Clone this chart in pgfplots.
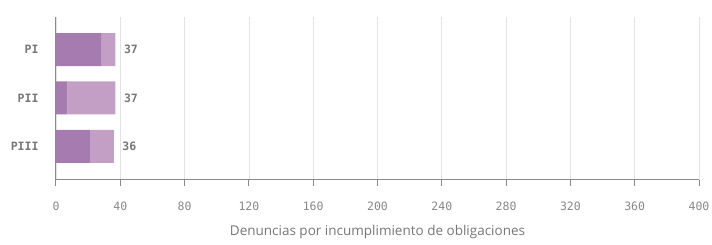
\documentclass[border=0pt]{standalone}
\usepackage{pgfplots}
\pgfplotsset{compat=1.18}
\usepackage{fontspec}
\setmainfont{Open Sans}
\newfontfamily\monofont{DejaVu Sans Mono}
\definecolor{dark}{HTML}{A57BB0}
\definecolor{light}{HTML}{C39FC5}
\definecolor{txt}{HTML}{777777}
\definecolor{ticktxt}{HTML}{888888}
\definecolor{axisgray}{HTML}{8A8A8A}
\definecolor{gridgray}{HTML}{E3E3E3}
\begin{document}
\begin{tikzpicture}
\useasboundingbox (-56pt,-65pt) rectangle (656pt,180pt);
\begin{axis}[
  at={(0,0)}, anchor=south west,
  scale only axis, width=643pt, height=163pt,
  xbar stacked, bar width=33pt,
  xmin=0, xmax=400, ymin=-0.698, ymax=2.677,
  xtick={0,40,...,400},
  ytick={0,1,2}, yticklabels={PIII,PII,PI},
  axis x line*=bottom, axis y line*=left,
  axis line style={axisgray, line width=1pt},
  x axis line style={-}, y axis line style={-},
  xmajorgrids, major grid style={gridgray, line width=0.8pt},
  major x tick style={axisgray, line width=1pt},
  tick align=outside, xtick pos=bottom,
  major tick length=6pt,
  ytick style={draw=none},
  xticklabel style={font=\monofont\fontsize{11.5}{12}\selectfont, text=ticktxt, yshift=-12pt},
  yticklabel style={font=\monofont\bfseries\fontsize{11.5}{12}\selectfont, text=txt, xshift=-8pt},
  xlabel={Denuncias por incumplimiento de obligaciones},
  xlabel style={font=\fontsize{13.5}{14}\selectfont, text=txt, yshift=-8pt},
  /pgf/number format/assume math mode=true,
]
\addplot[fill=dark, draw=none] coordinates {(28,2) (7,1) (21,0)};
\addplot[fill=light, draw=none] coordinates {(9,2) (30,1) (15,0)};
\addplot[draw=none, fill=none,
  point meta=explicit,
  nodes near coords={\pgfmathprintnumber{\pgfplotspointmeta}},
  nodes near coords style={font=\monofont\bfseries\fontsize{11.5}{12}\selectfont, text=txt, anchor=west, xshift=5pt},
] coordinates {(0.01,2) [37] (0.01,1) [37] (0.01,0) [36]};
\end{axis}
\end{tikzpicture}
\end{document}
